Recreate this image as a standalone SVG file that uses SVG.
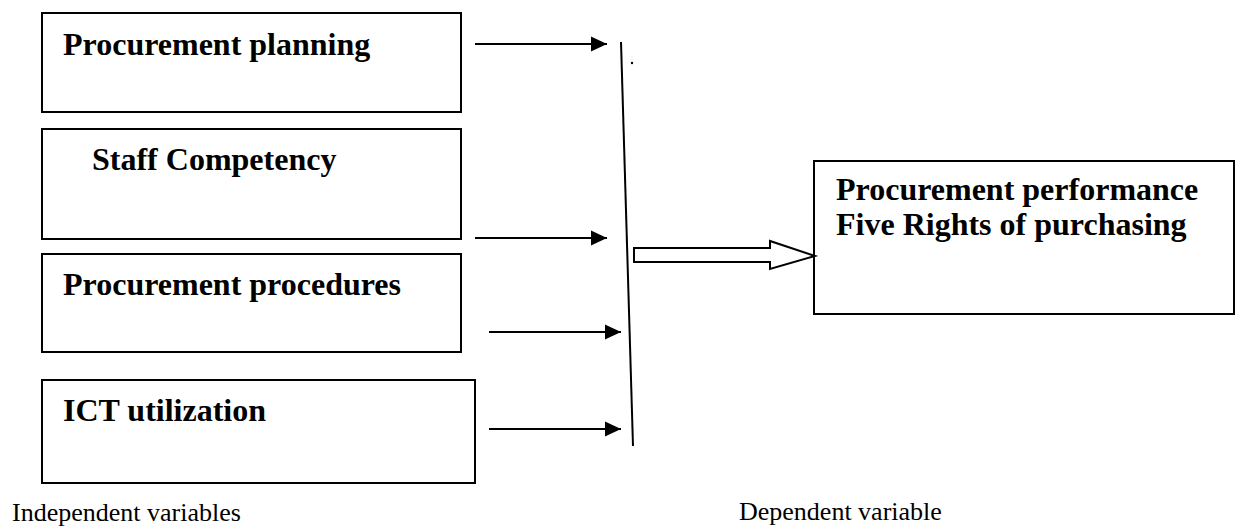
<svg xmlns="http://www.w3.org/2000/svg" width="1236" height="526" viewBox="0 0 1236 526">
<style>
.box{fill:#fff;stroke:#000;stroke-width:2}
.lbl{font-family:"Liberation Serif","Times New Roman",serif;font-weight:bold;font-size:32px;fill:#000}
.cap{font-family:"Liberation Serif","Times New Roman",serif;font-size:26px;fill:#000}
.ln{stroke:#000;stroke-width:2;fill:none}
</style>
<defs>
<marker id="ah" markerUnits="userSpaceOnUse" markerWidth="16" markerHeight="16" refX="16" refY="8" orient="auto">
<path d="M0,0.5 L16,8 L0,15.5 Z" fill="#000"/>
</marker>
</defs>
<rect width="1236" height="526" fill="#fff"/>
<g id="n1"><rect class="box" x="42" y="13" width="419" height="99"/><text class="lbl" x="63" y="55">Procurement planning</text></g>
<g id="n2"><rect class="box" x="42" y="129" width="419" height="110"/><text class="lbl" x="92" y="170">Staff Competency</text></g>
<g id="n3"><rect class="box" x="42" y="254" width="419" height="98"/><text class="lbl" x="63" y="295">Procurement procedures</text></g>
<g id="n4"><rect class="box" x="42" y="380" width="433" height="103"/><text class="lbl" x="63" y="421">ICT utilization</text></g>
<g id="n5"><rect class="box" x="814" y="161" width="420" height="153"/><text class="lbl" x="836" y="200">Procurement performance</text><text class="lbl" x="836" y="235">Five Rights of purchasing</text></g>
<g id="connectors">
<line class="ln" x1="475" y1="44" x2="607" y2="44" marker-end="url(#ah)"/>
<line class="ln" x1="475" y1="238" x2="607" y2="238" marker-end="url(#ah)"/>
<line class="ln" x1="489" y1="332" x2="621" y2="332" marker-end="url(#ah)"/>
<line class="ln" x1="489" y1="429" x2="621" y2="429" marker-end="url(#ah)"/>
<line class="ln" x1="621" y1="42" x2="633" y2="446"/>
<path d="M634,248 L770,248 L770,241 L815,256 L770,269 L770,262 L634,262 Z" fill="#fff" stroke="#000" stroke-width="2" stroke-linejoin="miter"/>
</g>
<circle cx="632" cy="63" r="1.2" fill="#000"/>
<text class="cap" x="12" y="521">Independent variables</text>
<text class="cap" x="739" y="520">Dependent variable</text>
</svg>
